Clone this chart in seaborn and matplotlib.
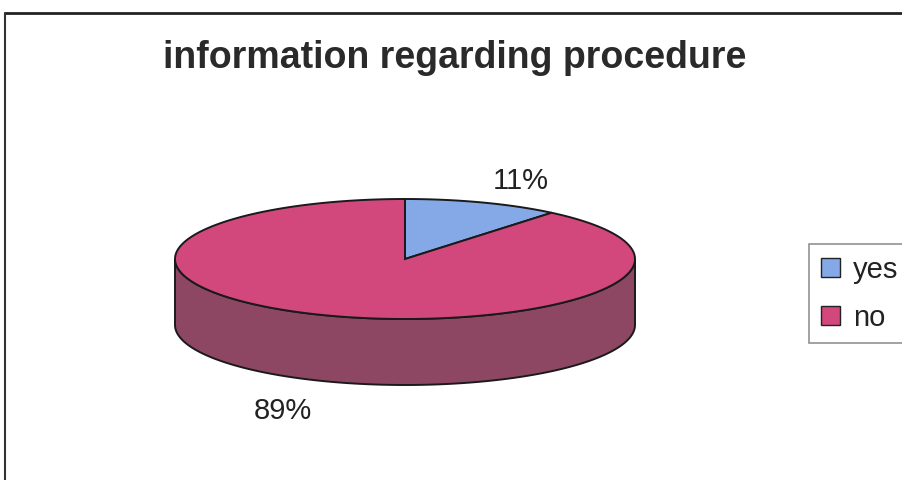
import numpy as np
import seaborn as sns
import matplotlib.pyplot as plt
from matplotlib.patches import Patch

# data
labels = ["yes", "no"]
values = [11, 89]
title = "information regarding procedure"

top_colors = ["#84A9E6", "#D2487C"]
side_colors = ["#5F7FB0", "#8E4763"]

sns.set_theme(style="white")
plt.rcParams['font.family'] = ['Liberation Sans', 'DejaVu Sans']

fig = plt.figure(figsize=(9.03, 4.8), dpi=100)
ax = fig.add_axes([0, 0, 1, 1])
ax.set_xlim(0, 903)
ax.set_ylim(480, 0)
ax.axis("off")

# outer chart frame (partly cut off in the scan)
ax.plot([5, 903], [13, 13], color="#222222", lw=2)
ax.plot([5, 5], [13, 480], color="#333333", lw=1.5)

# 3d pie geometry (pixel layout)
cx, cy, rx, ry, depth = 405, 259, 230, 60, 66


def pt(theta):
    t = np.radians(theta)
    return cx + rx * np.cos(t), cy - ry * np.sin(t)


total = sum(values)
fracs = [v / total for v in values]
starts = []
a = 90.0
for f in fracs:
    starts.append((a, a - 360 * f))
    a -= 360 * f

# side wall: only the front half (-180..0 deg) is visible
for (a0, a1), col in zip(starts, side_colors):
    th = None
    for shift in (0, -360, 360):
        l2, h2 = max(min(a0, a1) + shift, -180), min(max(a0, a1) + shift, 0)
        if h2 > l2:
            th = np.linspace(l2, h2, 120)
            break
    if th is None:
        continue
    xs, ys = pt(th)
    px = np.concatenate([xs, xs[::-1]])
    py = np.concatenate([ys, ys[::-1] + depth])
    ax.fill(px, py, color=col, ec="#1a1a1a", lw=1.4, zorder=2)

# top face slices
for (a0, a1), col in zip(starts, top_colors):
    th = np.linspace(a0, a1, 200)
    xs, ys = pt(th)
    px = np.concatenate([[cx], xs, [cx]])
    py = np.concatenate([[cy], ys, [cy]])
    ax.fill(px, py, color=col, ec="#1a1a1a", lw=1.4, zorder=3)

# percent labels
label_pos = [(521, 181), (283, 411)]
for f, (x, y) in zip(fracs, label_pos):
    ax.text(x, y, f"{f * 100:.0f}%", fontsize=21, color="#222222",
            ha="center", va="center", zorder=5)

ax.text(455, 58, title, fontsize=27, fontweight="bold", color="#2a2a2a",
        ha="center", va="center")

handles = [Patch(facecolor=c, edgecolor="#222222", lw=1) for c in top_colors]
leg = ax.legend(handles, labels, loc="upper left",
                bbox_to_anchor=(809 / 903, 1 - 244 / 480),
                bbox_transform=fig.transFigure, fontsize=21, frameon=True,
                fancybox=False, edgecolor="#777777", handlelength=0.65,
                handleheight=0.65, handletextpad=0.45, labelspacing=0.68,
                borderpad=0.4, borderaxespad=0)
leg.get_frame().set_linewidth(1.2)
for t in leg.get_texts():
    t.set_color("#222222")

fig.savefig("out.png", dpi=100, facecolor="white")
